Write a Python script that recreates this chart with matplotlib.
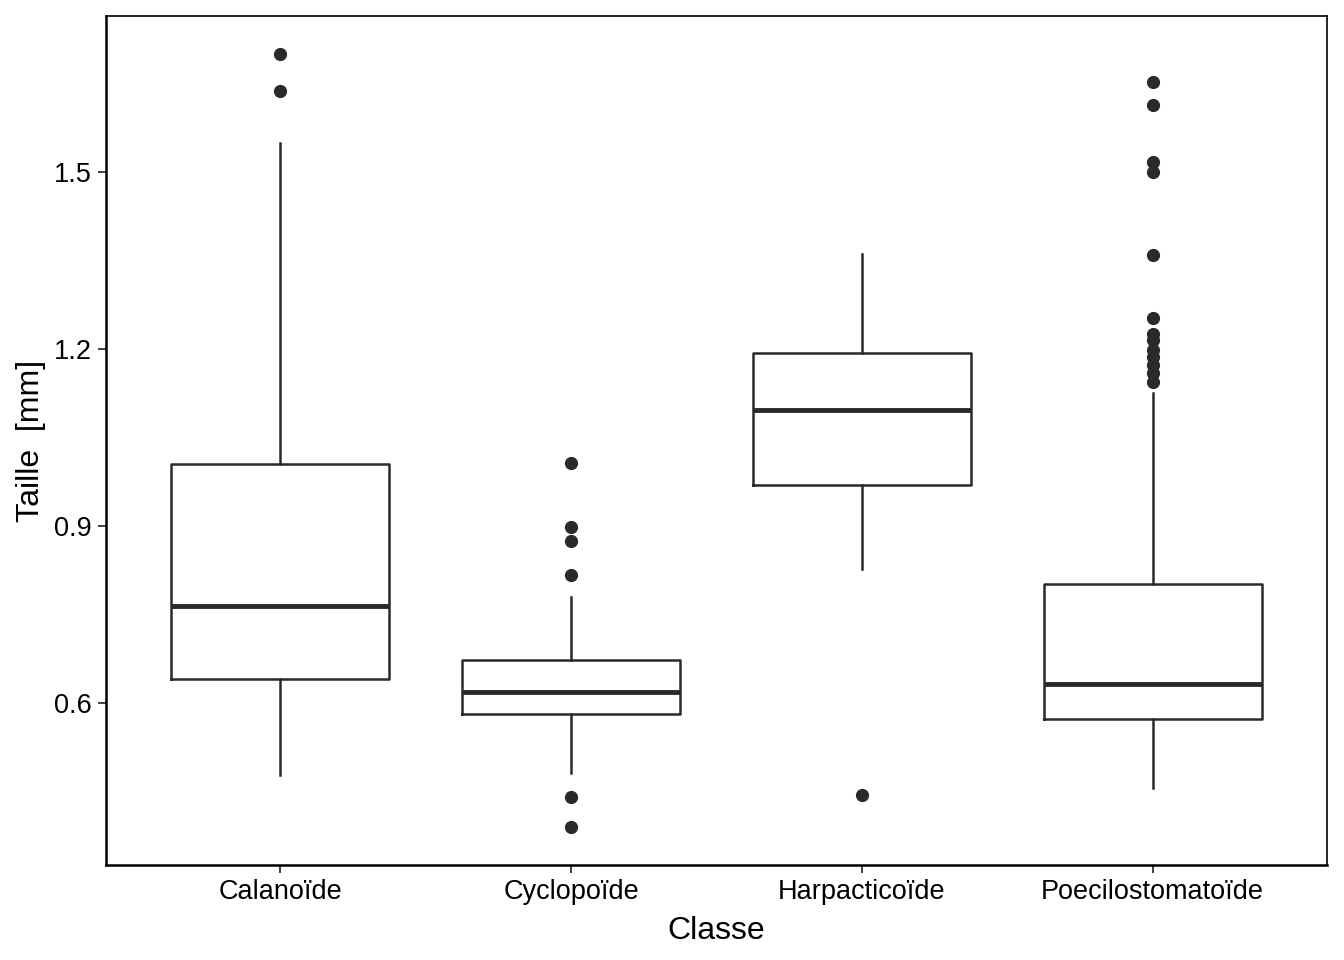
import numpy as np
import matplotlib.pyplot as plt

plt.rcParams['font.family'] = ['Liberation Sans', 'DejaVu Sans']

classes = ['Calanoïde', 'Cyclopoïde', 'Harpacticoïde', 'Poecilostomatoïde']
whislo = [0.478, 0.481, 0.827, 0.456]
q1 = [0.641, 0.581, 0.969, 0.573]
med = [0.764, 0.619, 1.097, 0.632]
q3 = [1.005, 0.673, 1.193, 0.802]
whishi = [1.549, 0.780, 1.361, 1.125]
fliers = [
    [1.700, 1.637],
    [1.007, 0.898, 0.875, 0.817, 0.441, 0.390],
    [0.444],
    [1.653, 1.614, 1.517, 1.500, 1.359, 1.253, 1.225, 1.215, 1.198,
     1.186, 1.173, 1.159, 1.144],
]

stats = []
for i in range(len(classes)):
    stats.append(dict(label=classes[i], whislo=whislo[i], q1=q1[i], med=med[i],
                      q3=q3[i], whishi=whishi[i], fliers=fliers[i]))

col = '#2a2a2a'
fig = plt.figure(figsize=(13.44, 9.6), dpi=100)
ax = fig.add_axes([106/1344, 1-865/960, (1327-106)/1344, (865-16)/960])
ax.bxp(stats, positions=np.arange(1, 5), widths=0.75, showcaps=False,
       boxprops=dict(color=col, linewidth=1.8),
       whiskerprops=dict(color=col, linewidth=1.8),
       medianprops=dict(color=col, linewidth=3.5),
       flierprops=dict(marker='o', markerfacecolor=col, markeredgecolor=col,
                       markersize=8.5, linestyle='none'))

ax.set_xlim(0.4, 4.6)
ax.set_ylim(0.3254, 1.764)
ax.set_yticks([0.6, 0.9, 1.2, 1.5])
ax.set_yticklabels(['0.6', '0.9', '1.2', '1.5'])
ax.tick_params(axis='both', labelsize=19.5, length=6, width=1.3, color='#333333',
               labelcolor='black', pad=4)
ax.set_xlabel('Classe', fontsize=23, labelpad=8)
ax.set_ylabel('Taille  [mm]', fontsize=23, labelpad=6)

for s in ['left', 'bottom']:
    ax.spines[s].set_linewidth(1.8)
    ax.spines[s].set_color('black')
for s in ['top', 'right']:
    ax.spines[s].set_linewidth(1.2)
    ax.spines[s].set_color('black')

fig.savefig('out.png', dpi=100)
